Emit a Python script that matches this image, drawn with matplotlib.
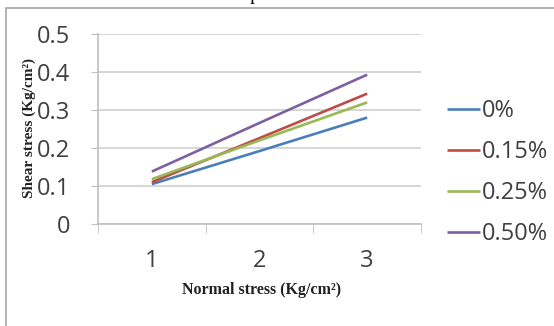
import matplotlib
matplotlib.use("Agg")
import matplotlib.pyplot as plt
from matplotlib.patches import Rectangle
from matplotlib.ticker import FixedLocator

normal_stress = [1, 2, 3]
series_labels = ["0%", "0.15%", "0.25%", "0.50%"]
shear_0 = [0.105, 0.192, 0.280]
shear_015 = [0.110, 0.226, 0.343]
shear_025 = [0.118, 0.220, 0.320]
shear_050 = [0.138, 0.266, 0.393]
y_ticks = [0, 0.1, 0.2, 0.3, 0.4, 0.5]
y_ticklabels = ["0", "0.1", "0.2", "0.3", "0.4", "0.5"]
colors = ["#4A7EBB", "#BE4B48", "#98B954", "#7D60A0"]

W, H = 554, 326
fig = plt.figure(figsize=(W / 100, H / 100), dpi=100)
fig.patch.set_facecolor("white")

# outer chart border
fig.add_artist(Rectangle((6 / W, -0.1), 1.2, (H - 8) / H + 0.1, transform=fig.transFigure,
                         fill=False, edgecolor="#A6A6A6", linewidth=1.2))
# clipped title (only its lower part shows, as in the source)
fig.text(265 / W, (H + 5) / H, "Proportion", ha="center", va="center",
         fontsize=14, family="Liberation Serif", color="black")

left, right, top, bottom = 98, 421, 34, 224
ax = fig.add_axes([left / W, (H - bottom) / H, (right - left) / W, (bottom - top) / H])

series = [shear_0, shear_015, shear_025, shear_050]
for vals, lab, c in zip(series, series_labels, colors):
    ax.plot(normal_stress, vals, color=c, linewidth=1.9, label=lab, solid_capstyle="butt")

ax.set_xlim(0.5, 3.5)
ax.set_ylim(0, 0.5)
ax.set_yticks(y_ticks)
ax.set_yticklabels(y_ticklabels)
ax.set_xticks(normal_stress)
ax.set_xticklabels([str(v) for v in normal_stress])
ax.xaxis.set_minor_locator(FixedLocator([0.5, 1.5, 2.5, 3.5]))

for t in ax.get_yticklabels() + ax.get_xticklabels():
    t.set_fontfamily("Open Sans")
    t.set_fontsize(17)
    t.set_color("#404040")

ax.tick_params(axis="y", which="major", length=5, color="#BFBFBF", pad=15, direction="out")
ax.tick_params(axis="x", which="major", length=0, pad=18)
ax.tick_params(axis="x", which="minor", length=6.5, color="#BFBFBF", direction="out")

ax.grid(axis="y", color="#D0D0D0", linewidth=1.2)
ax.set_axisbelow(True)
for s in ["top", "right"]:
    ax.spines[s].set_visible(False)
for s in ["left", "bottom"]:
    ax.spines[s].set_color("#BFBFBF")
    ax.spines[s].set_linewidth(1.2)

ax.set_xlabel("Normal stress (Kg/cm²)", family="Liberation Serif", fontweight="bold",
              fontsize=11.5, color="#222222")
ax.set_ylabel("Shear stress (Kg/cm²)", family="Liberation Serif", fontweight="bold",
              fontsize=11, color="#222222")
ax.xaxis.set_label_coords((262 - left) / (right - left), (bottom - 290) / (bottom - top),
                          transform=ax.transAxes)
ax.yaxis.set_label_coords((29 - left) / (right - left), (bottom - 128) / (bottom - top),
                          transform=ax.transAxes)
ax.xaxis.label.set_va("center")
ax.yaxis.label.set_va("center")

leg = ax.legend(loc="upper left", bbox_to_anchor=(438 / W, (H - 90) / H),
                bbox_transform=fig.transFigure, frameon=False,
                prop={"family": "Open Sans", "size": 17}, handlelength=1.36,
                handletextpad=0.1, labelspacing=0.72, borderaxespad=0)
for t in leg.get_texts():
    t.set_color("#404040")

fig.savefig("out.png", dpi=100)
